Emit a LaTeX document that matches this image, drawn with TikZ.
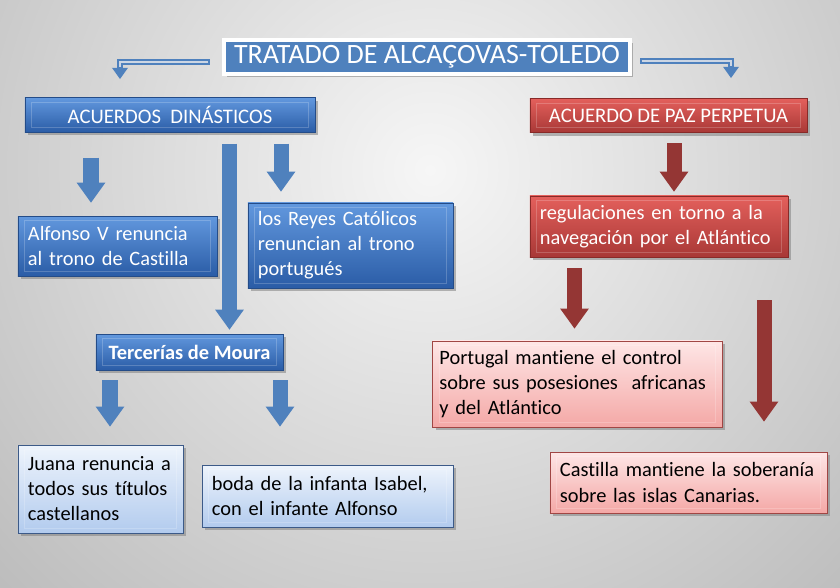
\documentclass[tikz,border=0pt]{standalone}
\usepackage{fontspec}
\setmainfont{Carlito}[Ligatures=NoCommon]
\usetikzlibrary{arrows.meta,positioning,calc,shadows}
\definecolor{bgin}{RGB}{246,246,246}
\definecolor{bgout}{RGB}{136,136,136}
\definecolor{titleblue}{RGB}{79,129,189}
\definecolor{bluetop}{RGB}{98,152,222}
\definecolor{bluebot}{RGB}{42,92,166}
\definecolor{blueline}{RGB}{36,76,136}
\definecolor{redtop}{RGB}{228,96,92}
\definecolor{redbot}{RGB}{168,56,54}
\definecolor{redline}{RGB}{136,42,40}
\definecolor{lbluetop}{RGB}{238,244,252}
\definecolor{lbluebot}{RGB}{178,203,238}
\definecolor{lblueline}{RGB}{60,90,136}
\definecolor{pinktop}{RGB}{254,230,230}
\definecolor{pinkbot}{RGB}{244,168,166}
\definecolor{pinkline}{RGB}{160,70,68}
\definecolor{arrblue}{RGB}{79,129,189}
\definecolor{arrred}{RGB}{148,54,52}
\definecolor{elbowfill}{RGB}{204,214,228}

\begin{document}
\begin{tikzpicture}[x=0.025cm, y=-0.025cm,
    bevel/.style={path picture={\draw[white, opacity=0.2, line width=0.6pt]
        ([xshift=0.17cm,yshift=-0.12cm]path picture bounding box.north west) rectangle
        ([xshift=-0.17cm,yshift=0.12cm]path picture bounding box.south east);}},
    shadowed/.style={drop shadow={shadow xshift=0.07cm, shadow yshift=-0.07cm, opacity=0.55}},
    title/.style={rectangle, draw=white, line width=0.1cm, fill=titleblue,
        text=white, font=\fontsize{19.9}{24}\selectfont, shadowed,
        minimum width=10.15cm, minimum height=0.85cm},
    head/.style={rectangle, draw=#1line, line width=0.5pt, top color=#1top,
        bottom color=#1bot, text=white, font=\fontsize{14.7}{17}\selectfont,
        shadowed, bevel, minimum height=0.86cm},
    box/.style={rectangle, draw=#1line, line width=0.5pt, top color=#1top,
        bottom color=#1bot, text=white, font=\fontsize{14.5}{17.8}\selectfont,
        align=left, inner xsep=0.25cm, inner ysep=0pt, shadowed, bevel},
    lbox/.style={rectangle, draw=#1line, line width=0.6pt, top color=#1top,
        bottom color=#1bot, text=black, font=\fontsize{14.5}{17.8}\selectfont,
        align=left, inner xsep=0.25cm, inner ysep=0pt, shadowed, bevel},
    barrow/.style={draw=arr#1, line width=0.375cm,
        -{Triangle[width=0.72cm, length=0.5cm, line width=0pt]}},
    elbow/.style={draw=arrblue, line width=0.14cm,
        -{Triangle[width=0.4cm, length=0.28cm, line width=0pt]},
        postaction={draw=elbowfill, line width=0.06cm, -, shorten >=0.3cm,
            shorten <=0.04cm}}
]
    \useasboundingbox (0,0) rectangle (840,587);

    % Background
    \begin{scope}
        \clip (0,0) rectangle (840,587);
        \shade[inner color=bgin, outer color=bgout] (430,170) circle (1150);
    \end{scope}

    % Title
    \node[title] (title) at (427,57) {TRATADO DE ALCAÇOVAS-TOLEDO};

    % Two branches
    \node[head=blue, minimum width=7.25cm] (dyn) at (170,115) {ACUERDOS\ \ DINÁSTICOS};
    \node[head=red, minimum width=6.925cm] (peace) at (668.5,115.5) {ACUERDO DE PAZ PERPETUA};

    \coordinate (ltip) at (120,79);
    \coordinate (rtip) at (731,78);
    \draw[elbow] ([xshift=-0.3cm,yshift=-0.125cm]title.west) -| (ltip);
    \draw[elbow] ([xshift=0.2cm,yshift=-0.1cm]title.east) -| (rtip);

    % Dynastic agreements
    \node[box=blue, text width=4.475cm, minimum height=1.5cm] (alf) at (117.5,246)
        {Alfonso V renuncia\\al trono de Castilla};
    \node[box=blue, text width=4.625cm, minimum height=2.125cm] (reyes) at (350.5,245.5)
        {los Reyes Católicos\\renuncian al trono\\portugués};
    \node[box=blue, align=center, font=\fontsize{14.5}{17.8}\selectfont\bfseries,
        minimum width=4.675cm, minimum height=0.9cm] (moura) at (189.5,352)
        {Tercerías de Moura};
    \node[lbox=lblue, text width=3.625cm, minimum height=2.2cm] (juana) at (100.5,489)
        {Juana renuncia a\\todos sus títulos\\castellanos};
    \node[lbox=lblue, text width=5.775cm, minimum height=1.55cm] (boda) at (327.5,496)
        {boda de la infanta Isabel,\\con el infante Alfonso};

    % Peace agreement
    \node[box=red, text width=5.95cm, minimum height=1.525cm] (nav) at (659,226.5)
        {regulaciones en torno a la\\navegación por el Atlántico};
    \node[lbox=pink, text width=6.9cm, inner xsep=0.165cm, minimum height=2.15cm] (port) at (577.5,384)
        {Portugal mantiene el control\\sobre sus posesiones\ \ africanas\\y del Atlántico};
    \node[lbox=pink, text width=6.425cm, minimum height=1.525cm] (cast) at (688.5,482.5)
        {Castilla mantiene la soberanía\\sobre las islas Canarias.};

    % Block arrows
    \draw[barrow=blue, shorten <=0.625cm, shorten >=0.325cm] (dyn.south -| 91,0) -- (alf.north -| 91,0);
    \draw[barrow=blue, shorten <=0.275cm, shorten >=0.275cm] (dyn.south -| 281,0) -- (reyes.north -| 281,0);
    \draw[barrow=blue, shorten <=0.275cm, shorten >=0.1cm] (dyn.south -| 229.5,0) -- (moura.north -| 229.5,0);
    \draw[barrow=blue, shorten <=0.25cm, shorten >=0.45cm] (moura.south -| 110,0) -- (juana.north -| 110,0);
    \draw[barrow=blue, shorten <=0.25cm, shorten >=0.95cm] (moura.south -| 280,0) -- (boda.north -| 280,0);
    \draw[barrow=red, shorten <=0.25cm, shorten >=0.1cm] (peace.south -| 674,0) -- (nav.north -| 674,0);
    \draw[barrow=red, shorten <=0.275cm, shorten >=0.3cm] (nav.south -| 574.5,0) -- (port.north -| 574.5,0);
    \draw[barrow=red, shorten <=1.075cm, shorten >=0.75cm] (nav.south -| 764,0) -- (cast.north -| 764,0);
\end{tikzpicture}
\end{document}
